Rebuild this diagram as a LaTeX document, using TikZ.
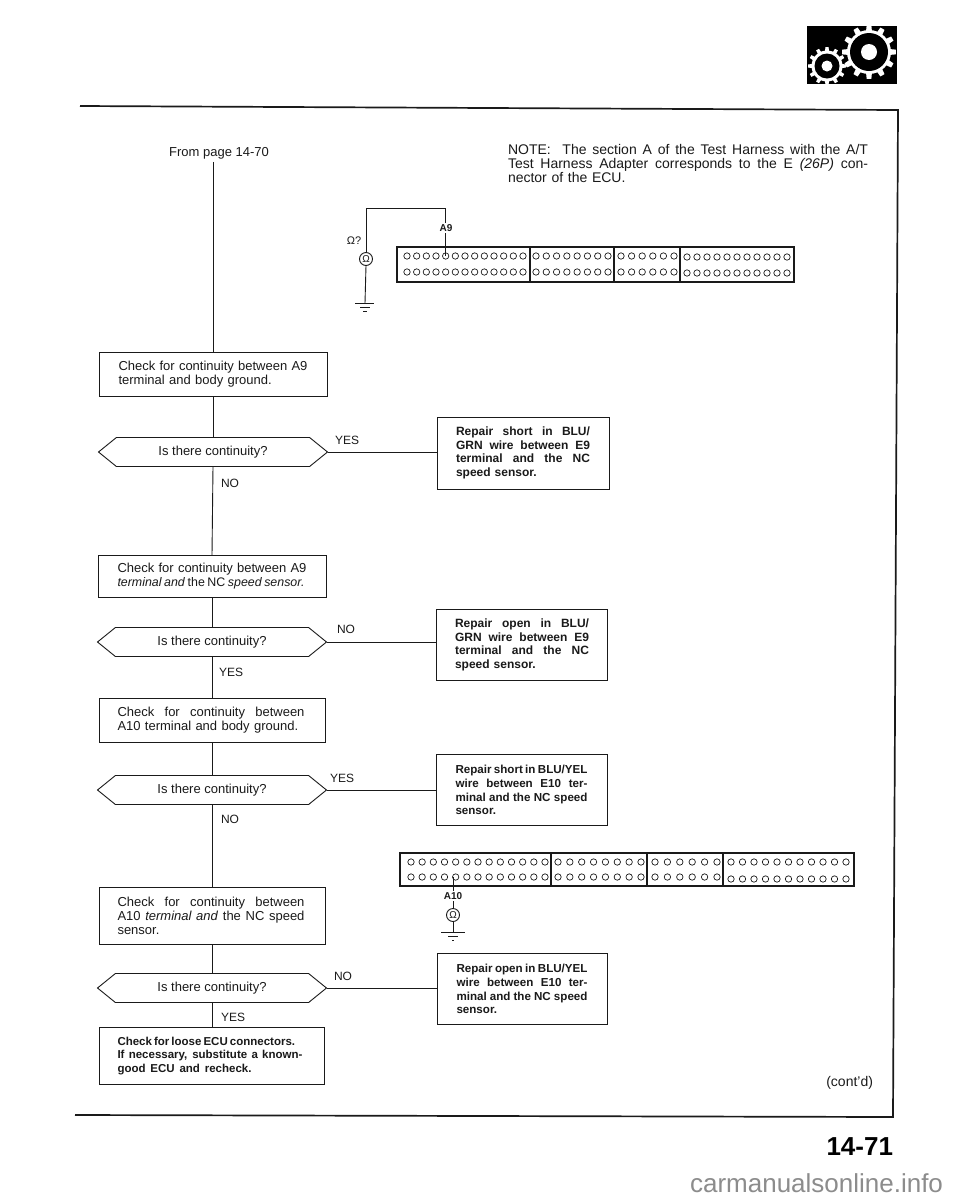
\documentclass[tikz,border=0pt]{standalone}
\usepackage{fontspec}
\setmainfont{Liberation Sans}
\usetikzlibrary{shapes.symbols,calc}
\definecolor{ink}{HTML}{1A1A1A}
% a line stretched to a given width
\newcommand{\jl}[2]{\makebox[#1pt][s]{\spaceskip=0pt\xspaceskip=0pt #2}}
% a line set to a given width with tight word spaces
\newcommand{\jt}[2]{\makebox[#1pt][s]{\spaceskip=0.18em plus 1em\xspaceskip=0.18em plus 1em #2}}
\newcommand{\holes}[4]{% first x, last x, count, y
  \pgfmathsetmacro{\hstep}{(#2-#1)/(#3-1)}
  \foreach \i in {1,...,#3}{\draw[holepin] ({#1+(\i-1)*\hstep},#4) circle (3.2);}}
\newcommand{\gearteeth}[4]{% x,y,inner,outer
  \foreach \a in {0,30,...,330}{
    \fill[white] ($(#1,#2)+(\a-8:#3)$) -- ($(#1,#2)+(\a-5:#4)$) -- ($(#1,#2)+(\a+5:#4)$) -- ($(#1,#2)+(\a+8:#3)$) -- cycle;}}
\tikzset{
  x=1pt,y=-1pt,
  every node/.style={text=ink,font=\fontsize{13}{14}\selectfont,inner sep=0pt,outer sep=0pt},
  wire/.style={draw=ink,line width=0.9pt},
  heavy/.style={draw=ink,line width=1.7pt},
  flowbox/.style={draw=ink,line width=0.9pt,fill=white,rectangle,align=left},
  query/.style={draw=ink,line width=0.9pt,fill=white,signal,signal to=east and west,signal pointer angle=78,minimum width=229pt,minimum height=29pt},
  replab/.style={font=\fontsize{12}{13.7}\selectfont\bfseries},
  tightlab/.style={font=\fontsize{11.6}{13.7}\selectfont\bfseries},
  branch/.style={anchor=west,font=\fontsize{12}{12}\selectfont},
  meter/.style={draw=ink,line width=0.9pt,fill=white,circle,minimum size=13pt,font=\fontsize{10}{10}\selectfont},
  tag/.style={font=\fontsize{10}{10}\selectfont\bfseries},
  holepin/.style={draw=ink,line width=0.7pt,fill=white},
  connbody/.style={draw=ink,line width=1.3pt,fill=white},
}
\begin{document}
\begin{tikzpicture}
\useasboundingbox (0,0) rectangle (960,1200);
\fill[white] (0,0) rectangle (960,1200);

% emblem
\fill[black] (807,26) rectangle (897,84);
\gearteeth{869}{52}{21}{27}
\fill[white] (869,52) circle (22);
\fill[black] (869,52) circle (19);
\fill[white] (869,52) circle (8);
\gearteeth{827}{66}{14}{19}
\fill[white] (827,66) circle (15.5);
\fill[black] (827,66) circle (12.5);
\fill[white] (827,66) circle (5.5);

% frame
\draw[heavy] (80,106) -- (898,110) -- (893,1117) -- (75,1115);

% flow column
\node (from) at (219,153) {From page 14-70};
\node[flowbox,minimum width=228pt,minimum height=44pt,text width=189pt] (b1) at (213,374) {\jl{189}{Check for continuity between A9}\\terminal and body ground.};
\node[query] (d1) at (213,452) {Is there continuity?};
\node[flowbox,minimum width=228pt,minimum height=42pt,text width=189pt] (b2) at (212,576) {\jl{189}{Check for continuity between A9}\\{\fontsize{12.4}{14}\selectfont\jt{187}{\textit{terminal and} the NC \textit{speed sensor.}}}};
\node[query] (d2) at (212,642) {Is there continuity?};
\node[flowbox,minimum width=226pt,minimum height=44pt,text width=189pt] (b3) at (212,720) {\jl{187}{Check for continuity between}\\A10 terminal and body ground.};
\node[query] (d3) at (212,790) {Is there continuity?};
\node[flowbox,minimum width=226pt,minimum height=57pt,text width=189pt] (b4) at (212,916) {\jl{187}{Check for continuity between}\\\jl{187}{A10 \textit{terminal and} the NC speed}\\sensor.};
\node[query] (d4) at (212,988) {Is there continuity?};
\node[flowbox,replab,minimum width=225pt,minimum height=57pt,text width=189pt] (b5) at (212,1056) {{\fontsize{11.5}{13.4}\selectfont\jt{176}{Check for loose ECU connectors.}}\\{\fontsize{11.5}{13.4}\selectfont\jt{185}{If necessary, substitute a known-}}\\{\fontsize{11.5}{13.4}\selectfont\jt{134}{good ECU and recheck.}}};

% repair boxes
\node[flowbox,replab,minimum width=172pt,minimum height=72pt,text width=134pt] (r1) at (523,453) {\jl{134}{Repair short in BLU/}\\\jl{134}{GRN wire between E9}\\\jl{134}{terminal and the NC}\\speed sensor.};
\node[flowbox,replab,minimum width=171pt,minimum height=71pt,text width=134pt] (r2) at (522,645) {\jl{134}{Repair open in BLU/}\\\jl{134}{GRN wire between E9}\\\jl{134}{terminal and the NC}\\speed sensor.};
\node[flowbox,tightlab,minimum width=171pt,minimum height=71pt,text width=133pt] (r3) at (522,790) {\jt{132}{Repair short in BLU/YEL}\\\jt{132}{wire between E10 ter-}\\\jt{132}{minal and the NC speed}\\sensor.};
\node[flowbox,tightlab,minimum width=170pt,minimum height=71pt,text width=131pt] (r4) at (522,989) {\jt{131}{Repair open in BLU/YEL}\\\jt{131}{wire between E10 ter-}\\\jt{131}{minal and the NC speed}\\sensor.};

% connectors
\draw[wire] (from.south -| b1.north) ++(0,3) -- (b1.north);
\draw[wire] (b1.south) -- (d1.north);
\draw[wire] (d1.south) -- (b2.north);
\draw[wire] (b2.south) -- (d2.north);
\draw[wire] (d2.south) -- (b3.north);
\draw[wire] (b3.south) -- (d3.north);
\draw[wire] (d3.south) -- (b4.north);
\draw[wire] (b4.south) -- (d4.north);
\draw[wire] (d4.south) -- (b5.north);
\draw[wire] (d1.east) -- (r1.west |- d1.east);
\draw[wire] (d2.east) -- (r2.west |- d2.east);
\draw[wire] (d3.east) -- (r3.west |- d3.east);
\draw[wire] (d4.east) -- (r4.west |- d4.east);

% branch labels
\node[branch] (y1) at (335,440) {YES};
\node[branch] (n1) at (221,483) {NO};
\node[branch] (n2) at (337,629) {NO};
\node[branch] (y2) at (219,672) {YES};
\node[branch] (y3) at (330,778) {YES};
\node[branch] (n3) at (221,819) {NO};
\node[branch] (n4) at (334,976) {NO};
\node[branch] (y4) at (221,1017) {YES};

% note
\node[anchor=north west,text width=362pt,align=left,font=\fontsize{14}{13.7}\selectfont] (note) at (508,144.5) {\jl{360}{NOTE:\ \ The section A of the Test Harness with the A/T}\\\jl{360}{Test Harness Adapter corresponds to the E \textit{(26P)} con-}\\nector of the ECU.};

% upper connector
\draw[connbody] (397,247) rectangle (794,282);
\draw[connbody] (530,247) -- (530,282) (614,247) -- (614,282) (680,247) -- (680,282);
\holes{407}{523}{13}{256}
\holes{407}{523}{13}{272}
\holes{536}{608}{8}{256}
\holes{536}{608}{8}{272}
\holes{621}{674}{6}{256}
\holes{621}{674}{6}{272}
\holes{687}{787}{11}{257}
\holes{687}{787}{11}{273}
\coordinate (pinA) at (445,256);
\coordinate (bendB) at (445,208);
\coordinate (bendC) at (366,208);
\node[meter] (m1) at (366,259) {Ω};
\coordinate (g1) at (365,303);
\draw[wire] (pinA) -- (bendB) -- (bendC) -- (m1.north);
\draw[wire] (m1.south) -- (g1);
\draw[wire] (355,303) -- (374,303) (360,307) -- (370,307) (363,311) -- (367,311);
\node[tag,fill=white,inner sep=1pt] (a9) at (446,228) {A9};
\node[font=\fontsize{11}{11}\selectfont] (ask) at (354,241) {Ω?};

% lower connector
\draw[connbody] (400,853) rectangle (854,886);
\draw[connbody] (551,853) -- (551,886) (647,853) -- (647,886) (723,853) -- (723,886);
\holes{411}{545}{13}{862}
\holes{411}{545}{13}{877}
\holes{558}{641}{8}{862}
\holes{558}{641}{8}{877}
\holes{655}{717}{6}{862}
\holes{655}{717}{6}{877}
\holes{731}{846}{11}{862}
\holes{731}{846}{11}{879}
\coordinate (pinB) at (453,877);
\node[meter] (m2) at (453,915) {Ω};
\coordinate (g2) at (453,932);
\draw[wire] (pinB) -- (m2.north);
\draw[wire] (m2.south) -- (g2);
\draw[wire] (441,932) -- (465,932) (448,936) -- (458,936) (452,940) -- (454,940);
\node[tag,fill=white,inner sep=1pt] (a10) at (453,896) {A10};

% footer
\node[anchor=east,font=\fontsize{14}{14}\selectfont] (cont) at (873,1083) {(cont'd)};
\node[anchor=east,font=\fontsize{26}{26}\selectfont\bfseries,text=black] (pg) at (893,1147) {14-71};
\node[anchor=east,font=\fontsize{26}{26}\selectfont,text=black!45] (wm) at (943,1183) {carmanualsonline.info};
\end{tikzpicture}
\end{document}
